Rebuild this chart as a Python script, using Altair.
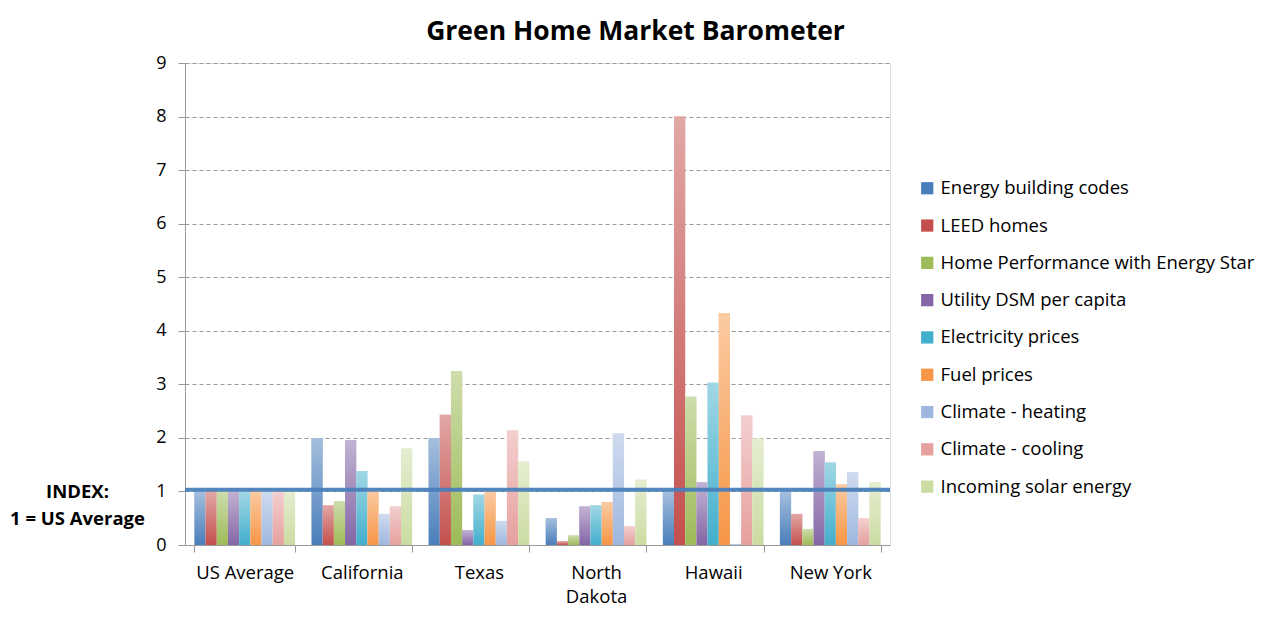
import altair as alt
import pandas as pd

states = ["US Average", "California", "Texas", "North Dakota", "Hawaii", "New York"]
series = [
    "Energy building codes",
    "LEED homes",
    "Home Performance with Energy Star",
    "Utility DSM per capita",
    "Electricity prices",
    "Fuel prices",
    "Climate - heating",
    "Climate - cooling",
    "Incoming solar energy",
]
energy_codes = [1.0, 2.00, 2.00, 0.50, 1.00, 1.00]
leed_homes = [1.0, 0.74, 2.43, 0.07, 8.00, 0.58]
home_perf = [1.0, 0.82, 3.25, 0.18, 2.77, 0.30]
utility_dsm = [1.0, 1.96, 0.28, 0.72, 1.17, 1.75]
electricity = [1.0, 1.38, 0.94, 0.74, 3.03, 1.54]
fuel = [1.0, 1.02, 1.00, 0.80, 4.33, 1.13]
heating = [1.0, 0.58, 0.45, 2.08, 0.02, 1.36]
cooling = [1.0, 0.72, 2.14, 0.35, 2.42, 0.50]
solar = [1.0, 1.80, 1.56, 1.22, 1.99, 1.17]
colors = ["#4a7ebb", "#c4504d", "#9dbb58", "#8466a6", "#42afcc",
          "#f79646", "#9fb7df", "#e6a09e", "#cbdca2"]
index_line = [1.03]

values = [energy_codes, leed_homes, home_perf, utility_dsm, electricity,
          fuel, heating, cooling, solar]
rows = []
for s, vals in zip(series, values):
    for st, v in zip(states, vals):
        rows.append({"state": st, "series": s, "value": v})
df = pd.DataFrame(rows)

FONT = "Open Sans"

x_enc = alt.X(
    "state:N",
    sort=states,
    scale=alt.Scale(paddingInner=0.14, paddingOuter=0.08),
    axis=alt.Axis(
        title=None,
        labelAngle=0,
        labelFontSize=18.5,
        labelFont=FONT,
        labelColor="#000000",
        labelPadding=11,
        labelLineHeight=24,
        labelBaseline="top",
        labelExpr="datum.label == 'North Dakota' ? ['North', 'Dakota'] : datum.label",
        tickBand="extent",
        tickSize=7,
        tickColor="#999999",
        domainColor="#999999",
        grid=False,
    ),
)
y_enc = alt.Y(
    "value:Q",
    scale=alt.Scale(domain=[0, 9], nice=False),
    axis=alt.Axis(
        values=list(range(10)),
        format="d",
        title=["INDEX:", "1 = US Average"],
        titleAngle=0,
        titleAlign="center",
        titleBaseline="middle",
        titleX=-108,
        titleY=428,
        titleFontSize=18.5,
        titleFont=FONT,
        titleFontWeight="bold",
        titleLineHeight=27,
        titleColor="#000000",
        labelFontSize=18,
        labelFont=FONT,
        labelColor="#000000",
        labelPadding=12,
        tickSize=7,
        tickColor="#999999",
        domainColor="#999999",
        grid=True,
        gridColor="#999999",
        gridDash=[4, 3],
        gridWidth=1,
    ),
)
xoff = alt.XOffset("series:N", sort=series, scale=alt.Scale(domain=series, paddingInner=0, paddingOuter=0))

bars = alt.Chart(df).mark_bar(stroke=None).encode(
    x=x_enc,
    xOffset=xoff,
    y=y_enc,
    color=alt.Color(
        "series:N",
        sort=series,
        scale=alt.Scale(domain=series, range=colors),
        legend=alt.Legend(
            title=None,
            orient="none",
            legendX=733,
            legendY=116,
            symbolType="square",
            symbolSize=150,
            symbolStrokeWidth=0,
            labelFontSize=18.5,
            labelFont=FONT,
            labelColor="#000000",
            labelLimit=400,
            rowPadding=18.3,
            labelOffset=4,
        ),
    ),
)

shine = alt.Chart(df).mark_bar(
    fill=alt.Gradient(
        gradient="linear",
        stops=[
            alt.GradientStop(color="rgba(255,255,255,0.5)", offset=0),
            alt.GradientStop(color="rgba(255,255,255,0)", offset=1),
        ],
        x1=0, x2=0, y1=0, y2=1,
    ),
).encode(
    x=alt.X("state:N", sort=states),
    xOffset=alt.XOffset("series:N", sort=series),
    y=alt.Y("value:Q"),
)

rule = alt.Chart(pd.DataFrame({"v": index_line})).mark_rule(
    color="#4a7ebb", strokeWidth=4, opacity=0.95
).encode(y=alt.Y("v:Q"))

chart = alt.layer(bars, shine, rule).properties(
    width=705,
    height=482,
    autosize=alt.AutoSizeParams(type="none"),
    padding={"left": 177, "top": 55, "right": 372, "bottom": 63},
    title=alt.TitleParams(
        "Green Home Market Barometer",
        fontSize=26.5,
        font=FONT,
        fontWeight="bold",
        color="#000000",
        anchor="middle",
        frame="group",
        dx=98,
        offset=9,
    ),
).configure_view(stroke=None).configure(background="white")

chart.save("out.html", embed_options={"renderer": "svg", "actions": False})
